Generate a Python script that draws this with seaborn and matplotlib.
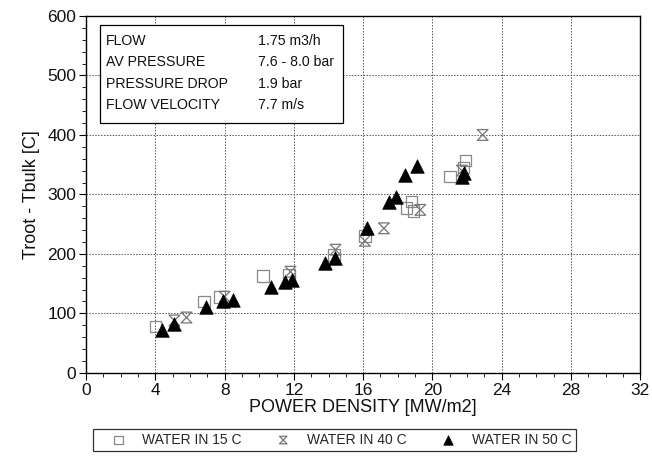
import numpy as np
import pandas as pd
import matplotlib
matplotlib.use("Agg")
import matplotlib.pyplot as plt
from matplotlib.path import Path
from matplotlib.patches import Rectangle
from matplotlib.ticker import MultipleLocator
import seaborn as sns

# ---- data ----
x_15 = [4.0, 6.8, 7.7, 10.2, 11.7, 14.3, 16.1, 18.5, 18.8, 18.9, 21.0, 21.8, 21.9]
y_15 = [78, 120, 127, 163, 165, 198, 230, 277, 288, 272, 330, 345, 357]
x_40 = [5.1, 5.8, 8.0, 11.8, 14.4, 16.1, 17.2, 19.3, 21.7, 22.9]
y_40 = [88, 93, 128, 170, 207, 222, 243, 274, 340, 400]
x_50 = [4.4, 5.05, 6.95, 7.9, 8.5, 10.7, 11.5, 11.9, 13.8, 14.4, 16.2, 17.5,
        17.9, 18.4, 19.1, 21.7, 21.8]
y_50 = [72, 82, 110, 120, 123, 145, 153, 156, 184, 193, 243, 288, 296, 333,
        348, 330, 336]
series_names = ["WATER IN 15 C", "WATER IN 40 C", "WATER IN 50 C"]
info_labels = ["FLOW", "AV PRESSURE", "PRESSURE DROP", "FLOW VELOCITY"]
info_values = ["1.75 m3/h", "7.6 - 8.0 bar", "1.9 bar", "7.7 m/s"]
x_ticks = [0, 4, 8, 12, 16, 20, 24, 28, 32]
y_ticks = [0, 100, 200, 300, 400, 500, 600]

df = pd.DataFrame({
    "x": x_15 + x_40 + x_50,
    "y": y_15 + y_40 + y_50,
    "series": [series_names[0]] * len(x_15) + [series_names[1]] * len(x_40)
              + [series_names[2]] * len(x_50),
})

sns.set_theme(style="white")
plt.rcParams["font.family"] = ["Liberation Sans", "DejaVu Sans"]

fig = plt.figure(figsize=(6.52, 4.58), dpi=100)
ax = fig.add_axes([0.132, 0.186, 0.850, 0.779])

hourglass = Path([(-1, 1), (1, 1), (-1, -1), (1, -1), (-1, 1)],
                 [Path.MOVETO, Path.LINETO, Path.LINETO, Path.LINETO, Path.CLOSEPOLY])

styles = {
    series_names[0]: dict(marker="s", s=70, facecolors="none", edgecolors="#888888", linewidths=0.9),
    series_names[1]: dict(marker=hourglass, s=60, facecolors="none", edgecolors="#777777", linewidths=0.9),
    series_names[2]: dict(marker="^", s=95, color="black", edgecolors="black", linewidths=0.5),
}
for name in series_names:
    sub = df[df["series"] == name]
    sns.scatterplot(data=sub, x="x", y="y", ax=ax, label=name, legend=False, **styles[name])

ax.set_xlim(0, 32)
ax.set_ylim(0, 600)
ax.set_xticks(x_ticks)
ax.set_yticks(y_ticks)
ax.xaxis.set_minor_locator(MultipleLocator(1))
ax.yaxis.set_minor_locator(MultipleLocator(20))
ax.tick_params(axis="both", which="major", direction="out", length=5, width=0.8,
               labelsize=12.5, color="black", labelcolor="#111111", bottom=True, left=True,
               pad=2)
ax.tick_params(axis="both", which="minor", direction="out", length=3, width=0.6,
               color="black", bottom=True, left=True)
ax.grid(True, which="major", linestyle=(0, (1.5, 1.5)), color="#555555", linewidth=0.7)
for sp in ax.spines.values():
    sp.set_color("black")
    sp.set_linewidth(1.0)

ax.set_xlabel("POWER DENSITY [MW/m2]", fontsize=13, color="#111111", labelpad=1)
ax.set_ylabel("Troot - Tbulk [C]", fontsize=13, color="#111111", labelpad=5)

# info box
ax.add_patch(Rectangle((0.025, 0.70), 0.438, 0.275, transform=ax.transAxes,
                       facecolor="white", edgecolor="black", linewidth=0.9, zorder=3))
for i, (lab, val) in enumerate(zip(info_labels, info_values)):
    yy = 0.93 - i * 0.06
    ax.text(0.036, yy, lab, transform=ax.transAxes, fontsize=10.2, va="center",
            ha="left", color="#111111", zorder=4)
    ax.text(0.31, yy, val, transform=ax.transAxes, fontsize=10.2, va="center",
            ha="left", color="#111111", zorder=4)

handles, labels = ax.get_legend_handles_labels()
leg = fig.legend(handles, labels, loc="center", bbox_to_anchor=(0.513, 0.040), ncol=3,
                 frameon=True, fancybox=False, fontsize=10, handletextpad=0.2,
                 columnspacing=1.5, borderpad=0.3, markerscale=0.7, handlelength=3.0)
leg.get_frame().set_edgecolor("black")
leg.get_frame().set_linewidth(0.9)

fig.savefig("out.png", dpi=100)
